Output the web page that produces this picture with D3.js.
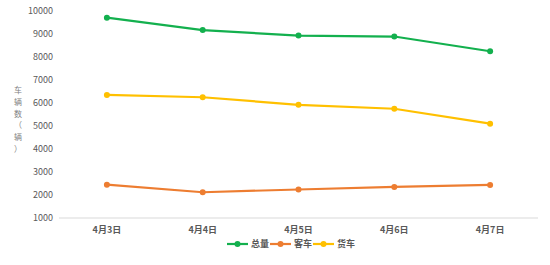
<!DOCTYPE html>
<html>
<head>
<meta charset="utf-8">
<script src="https://cdn.jsdelivr.net/npm/d3@7"></script>
<style>
  body { margin: 0; background: #fff; }
  text { font-family: "Noto Sans CJK SC", "Noto Sans", sans-serif; }
</style>
</head>
<body>
<div id="chart"></div>
<script>
const dates = ["4月3日", "4月4日", "4月5日", "4月6日", "4月7日"];
const total = [9710, 9170, 8930, 8890, 8250];
const bus = [2450, 2120, 2240, 2350, 2440];
const truck = [6350, 6250, 5920, 5750, 5100];
const seriesNames = ["总量", "客车", "货车"];
const seriesColors = ["#13b04e", "#ed7d31", "#ffc000"];
const yTicks = [1000, 2000, 3000, 4000, 5000, 6000, 7000, 8000, 9000, 10000];

const width = 550;
const height = 265;
const margin = { top: 11, right: 12, bottom: 47, left: 59 };

const series = [total, bus, truck].map((vals, i) => ({
  name: seriesNames[i],
  color: seriesColors[i],
  values: vals
}));

const svg = d3.select("#chart")
  .append("svg")
  .attr("width", width)
  .attr("height", height);

const x = d3.scaleBand()
  .domain(dates)
  .range([margin.left, width - margin.right]);

const y = d3.scaleLinear()
  .domain([1000, 10000])
  .range([height - margin.bottom, margin.top]);

// y axis labels
svg.append("g")
  .selectAll("text")
  .data(yTicks)
  .enter().append("text")
  .attr("x", margin.left - 6)
  .attr("y", d => y(d))
  .attr("dy", "0.35em")
  .attr("text-anchor", "end")
  .style("font-size", "9px")
  .style("fill", "#595959")
  .text(d => d);

// baseline
svg.append("line")
  .attr("x1", margin.left)
  .attr("x2", width - margin.right)
  .attr("y1", y(1000))
  .attr("y2", y(1000))
  .attr("stroke", "#d9d9d9")
  .attr("stroke-width", 1);

// x labels
svg.append("g")
  .selectAll("text")
  .data(dates)
  .enter().append("text")
  .attr("x", d => x(d) + x.bandwidth() / 2)
  .attr("y", y(1000) + 15)
  .attr("text-anchor", "middle")
  .style("font-size", "9px")
  .style("font-weight", "bold")
  .style("fill", "#595959")
  .text(d => d);

// y title, one character per line
const yTitle = ["车", "辆", "数", "（", "辆", "）"];
svg.append("g")
  .selectAll("text")
  .data(yTitle)
  .enter().append("text")
  .attr("x", 18)
  .attr("y", (d, i) => 93 + i * 11.8)
  .attr("text-anchor", "middle")
  .style("font-size", "8px")
  .style("fill", "#7f7f7f")
  .text(d => d);

const line = d3.line()
  .x((d, i) => x(dates[i]) + x.bandwidth() / 2)
  .y(d => y(d));

series.forEach(s => {
  svg.append("path")
    .datum(s.values)
    .attr("d", line)
    .attr("fill", "none")
    .attr("stroke", s.color)
    .attr("stroke-width", 2.2);

  svg.selectAll(null)
    .data(s.values)
    .enter().append("circle")
    .attr("cx", (d, i) => x(dates[i]) + x.bandwidth() / 2)
    .attr("cy", d => y(d))
    .attr("r", 3)
    .attr("fill", s.color);
});

// legend
const legend = svg.append("g")
  .attr("transform", "translate(227,244)");

const legendItemWidth = 43;

series.forEach((s, i) => {
  const g = legend.append("g").attr("transform", `translate(${i * legendItemWidth},0)`);
  g.append("line")
    .attr("x1", 0).attr("x2", 21)
    .attr("y1", 0).attr("y2", 0)
    .attr("stroke", s.color)
    .attr("stroke-width", 2.2);
  g.append("circle")
    .attr("cx", 10.5).attr("cy", 0).attr("r", 3)
    .attr("fill", s.color);
  g.append("text")
    .attr("x", 24)
    .attr("y", 0)
    .attr("dy", "0.35em")
    .style("font-size", "9px")
    .style("font-weight", "bold")
    .style("fill", "#595959")
    .text(s.name);
});
</script>
</body>
</html>
